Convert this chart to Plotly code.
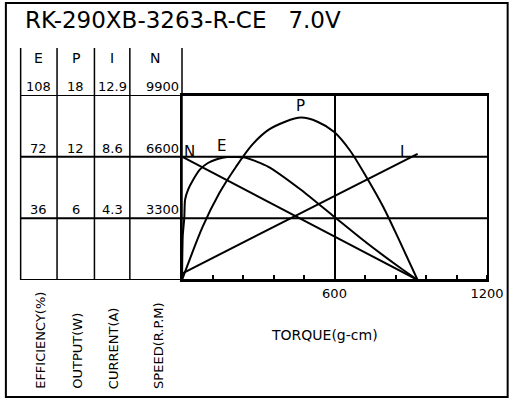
import plotly.graph_objects as go

# motor curve
title = "RK-290XB-3263-R-CE   7.0V"

speed_torque = [0, 927]
speed_rpm = [6600, 0]

current_torque = [0, 927]
current_a = [0.45, 8.8]

eff_torque = [0, 1, 3, 9, 12, 24, 44, 70, 102, 140, 178, 212, 251, 340, 468, 599, 726, 854, 927]
eff_pct = [0, 12, 26, 36.3, 46.8, 52.7, 58.5, 64.4, 68.3, 70.6, 71.8, 71.8, 71.4, 66.1, 52.7, 36.9, 21.7, 7.6, 0]

out_torque = [0, 81, 147, 212, 274, 340, 406, 468, 533, 599, 661, 726, 792, 854, 927]
out_w = [0, 5.16, 8.46, 11.0, 13.1, 14.6, 15.4, 15.8, 15.4, 14.4, 12.6, 10.0, 7.1, 3.9, 0]

# left hand scale table
eff_ticks = ["36", "72", "108"]
out_ticks = ["6", "12", "18"]
cur_ticks = ["4.3", "8.6", "12.9"]
spd_ticks = [3300, 6600, 9900]

W, H = 516, 400
L, R, T, B = 182, 492, 95, 280
FONT = "DejaVu Sans"


def px(x):
    return (x - L) / (R - L)


def py(y):
    return (B - y) / (B - T)


def label(text, x, y, size, **kw):
    d = dict(text=text, xref="paper", yref="paper", x=px(x), y=py(y), xanchor="center", yanchor="middle",
             showarrow=False, font=dict(size=size))
    d.update(kw)
    return d


fig = go.Figure()
line = dict(color="black", width=2)
fig.add_trace(go.Scatter(x=speed_torque, y=speed_rpm, mode="lines", line=line, yaxis="y"))
fig.add_trace(go.Scatter(x=eff_torque, y=eff_pct, mode="lines", line=dict(color="black", width=2, shape="spline", smoothing=0.6), yaxis="y2"))
fig.add_trace(go.Scatter(x=out_torque, y=out_w, mode="lines", line=dict(color="black", width=2, shape="spline", smoothing=0.8), yaxis="y3"))
fig.add_trace(go.Scatter(x=current_torque, y=current_a, mode="lines", line=line, yaxis="y4"))

shapes = []
# outer frame
shapes.append(dict(type="rect", xref="paper", yref="paper", x0=px(3), x1=px(513), y0=py(397), y1=py(3),
                   line=dict(color="black", width=2)))
# horizontal rules carried across the table
for v in [0] + spd_ticks:
    shapes.append(dict(type="line", xref="paper", yref="y", x0=px(18), x1=1, y0=v, y1=v,
                       line=dict(color="black", width=2)))
# table columns
for xc in [18, 55, 93, 129, 182]:
    shapes.append(dict(type="line", xref="paper", yref="paper", x0=px(xc), x1=px(xc), y0=0, y1=py(48),
                       line=dict(color="black", width=1.5)))

ann = [label(title, 20, 20, 23, xanchor="left")]
cols = [(36.5, 36.5, "E", eff_ticks), (74, 74, "P", out_ticks), (111, 111, "I", cur_ticks),
        (155, 162, "N", [str(s) for s in spd_ticks])]
for xh, xv, head, vals in cols:
    ann.append(label(head, xh, 58, 14))
    for v, s in zip(spd_ticks, vals):
        ann.append(dict(text=s, xref="paper", yref="y", x=px(xv), y=v, yanchor="bottom", xanchor="center",
                        yshift=-1, showarrow=False, font=dict(size=13)))
for xc, s in [(38, "EFFICIENCY(%)"), (75, "OUTPUT(W)"), (112, "CURRENT(A)"), (158, "SPEED(R.P.M)")]:
    ann.append(label(s, xc, 391, 13, textangle=-90, yanchor="bottom"))
ann.append(label("TORQUE(g-cm)", 327, 335, 14))
for xc, yc, s in [(190, 152, "N"), (222, 146, "E"), (302, 106, "P"), (406, 152, "I")]:
    ann.append(label(s, xc, yc, 15))

hidden = dict(overlaying="y", visible=False, fixedrange=True)
fig.update_layout(
    width=W, height=H,
    margin=dict(l=L, r=W - R, t=T, b=H - B),
    paper_bgcolor="white", plot_bgcolor="white",
    showlegend=False,
    font=dict(family=FONT, color="black", size=13),
    xaxis=dict(range=[0, 1200], tickvals=[600, 1200], ticks="", showgrid=True, gridcolor="black", gridwidth=1.5,
               zeroline=False, showline=True, mirror=True, linecolor="black", linewidth=2,
               minor=dict(dtick=120, tick0=0, ticks="inside", ticklen=5, tickcolor="black", tickwidth=1.5, showgrid=False),
               tickfont=dict(size=13)),
    yaxis=dict(range=[0, 9900], showticklabels=False, ticks="", showgrid=False, zeroline=False,
               showline=True, mirror=True, linecolor="black", linewidth=2),
    yaxis2=dict(range=[0, 108], **hidden),
    yaxis3=dict(range=[0, 18], **hidden),
    yaxis4=dict(range=[0, 12.9], **hidden),
    shapes=shapes,
    annotations=ann,
)

fig.write_html("out.html", config={"displayModeBar": False},
               post_script="document.body.style.margin='0';")
